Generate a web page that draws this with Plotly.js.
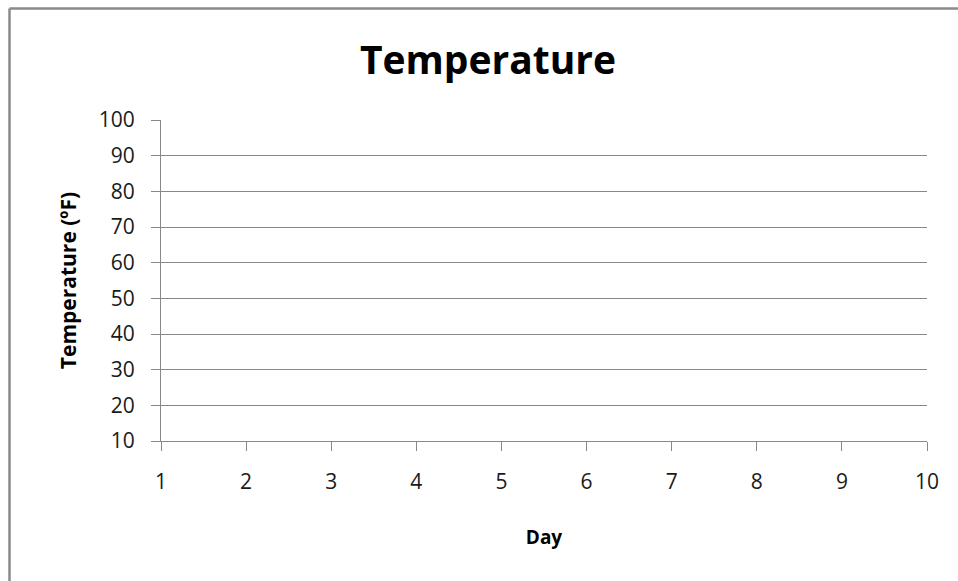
<!DOCTYPE html>
<html>
<head>
<meta charset="utf-8">
<script src="https://cdn.plot.ly/plotly-3.0.1.min.js"></script>
<style>
  html, body { margin: 0; padding: 0; background: #ffffff; }
  #chart { width: 958px; height: 581px; }
</style>
</head>
<body>
<div id="chart"></div>
<script>
// Data: the reference chart is an empty template (no data points plotted)
var days = [1, 2, 3, 4, 5, 6, 7, 8, 9, 10];
var temperatures = [null, null, null, null, null, null, null, null, null, null];
var yTickValues = [10, 20, 30, 40, 50, 60, 70, 80, 90, 100];
var chartTitle = 'Temperature';
var xTitle = 'Day';
var yTitle = 'Temperature (ºF)';

var FONT = 'Open Sans, Lato, DejaVu Sans, sans-serif';
var GRAY = '#888888';

var trace = {
  x: days,
  y: temperatures,
  type: 'scatter',
  mode: 'lines+markers',
  showlegend: false,
  hoverinfo: 'skip'
};

// plot area: x 161..927, y 120..441
var L = 161, R = 927, T = 120, B = 441;
function px(x) { return (x - L) / (R - L); }
function py(y) { return (B - y) / (B - T); }

var layout = {
  width: 958,
  height: 581,
  margin: { l: L, r: 958 - R, t: T, b: 581 - B, pad: 0 },
  paper_bgcolor: '#ffffff',
  plot_bgcolor: '#ffffff',
  font: { family: FONT, color: '#1a1a1a' },
  title: {
    text: '<b>' + chartTitle + '</b>',
    font: { family: FONT, size: 39, color: '#000000' },
    xref: 'container', x: 488 / 958, xanchor: 'center',
    yref: 'container', y: 1 - 60 / 581, yanchor: 'middle'
  },
  xaxis: {
    range: [days[0], days[days.length - 1]],
    tickvals: days,
    ticktext: days.map(String),
    showgrid: false,
    zeroline: false,
    showline: true,
    linecolor: GRAY,
    linewidth: 1,
    ticks: 'outside',
    ticklen: 9,
    tickcolor: GRAY,
    tickwidth: 1,
    ticklabelstandoff: 13,
    tickfont: { family: FONT, size: 21, color: '#1a1a1a' },
    title: {
      text: '<b>' + xTitle + '</b>',
      font: { family: FONT, size: 19, color: '#000000' },
      standoff: 36
    },
    fixedrange: true
  },
  yaxis: {
    range: [yTickValues[0], yTickValues[yTickValues.length - 1]],
    tickvals: yTickValues,
    ticktext: yTickValues.map(String),
    showgrid: true,
    gridcolor: GRAY,
    gridwidth: 1,
    zeroline: false,
    showline: true,
    linecolor: GRAY,
    linewidth: 1,
    ticks: 'outside',
    ticklen: 9,
    tickcolor: GRAY,
    tickwidth: 1,
    ticklabelstandoff: 12,
    tickfont: { family: FONT, size: 21, color: '#1a1a1a' },
    title: {
      text: '<b>' + yTitle + '</b>',
      font: { family: FONT, size: 21, color: '#000000' },
      standoff: 16
    },
    fixedrange: true
  },
  shapes: [
    // chart-area border (top and left visible; right/bottom out of frame)
    { type: 'line', xref: 'paper', yref: 'paper', layer: 'above',
      x0: px(9.5), x1: px(990), y0: py(8.5), y1: py(8.5),
      line: { color: '#8a8a8a', width: 2.5 } },
    { type: 'line', xref: 'paper', yref: 'paper', layer: 'above',
      x0: px(9.5), x1: px(9.5), y0: py(8.5), y1: py(620),
      line: { color: '#8a8a8a', width: 2.5 } }
  ]
};

Plotly.newPlot('chart', [trace], layout, { displayModeBar: false, staticPlot: true });
</script>
</body>
</html>
